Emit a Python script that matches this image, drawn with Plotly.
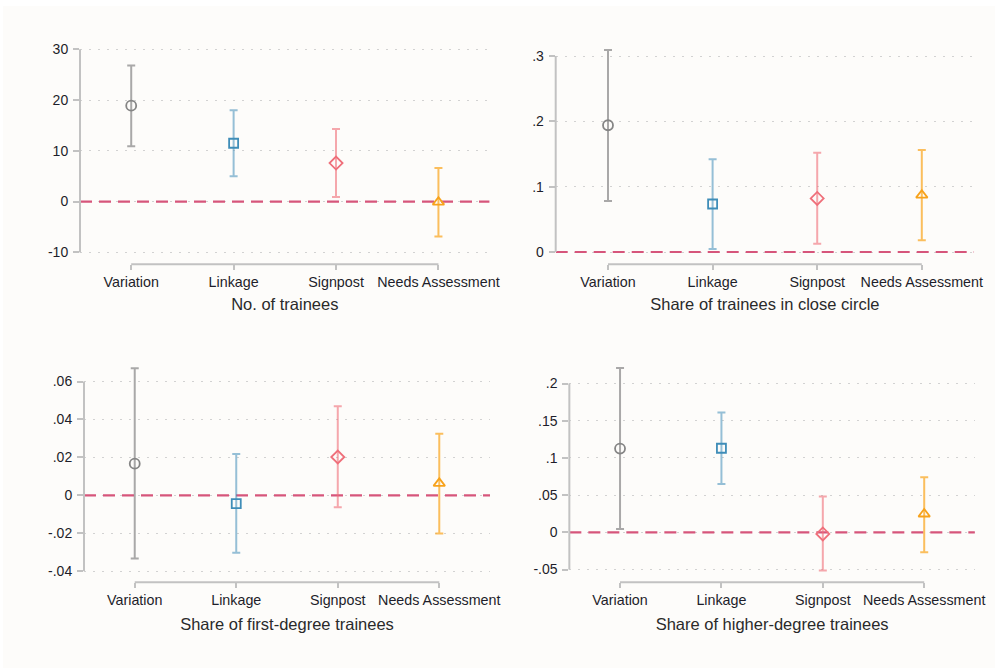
import plotly.graph_objects as go

categories = ["Variation", "Linkage", "Signpost", "Needs Assessment"]
panel_titles = [
    "No. of trainees",
    "Share of trainees in close circle",
    "Share of first-degree trainees",
    "Share of higher-degree trainees",
]

# point estimates and 95% CI bounds per panel (order: Variation, Linkage, Signpost, Needs Assessment)
est_trainees = [18.9, 11.5, 7.6, -0.1]
lo_trainees = [10.9, 5.0, 0.9, -6.9]
hi_trainees = [26.8, 18.0, 14.3, 6.6]

est_close = [0.194, 0.0735, 0.082, 0.087]
lo_close = [0.078, 0.0046, 0.0128, 0.0179]
hi_close = [0.309, 0.142, 0.152, 0.156]

est_first = [0.0167, -0.0044, 0.0202, 0.0063]
lo_first = [-0.0334, -0.0303, -0.0063, -0.0202]
hi_first = [0.067, 0.0218, 0.047, 0.0325]

est_higher = [0.1125, 0.113, -0.0022, 0.0246]
lo_higher = [0.0045, 0.065, -0.0515, -0.0269]
hi_higher = [0.221, 0.161, 0.048, 0.074]

tickvals_trainees = [-10, 0, 10, 20, 30]
ticktext_trainees = ["-10", "0", "10", "20", "30"]
tickvals_close = [0, 0.1, 0.2, 0.3]
ticktext_close = ["0", ".1", ".2", ".3"]
tickvals_first = [-0.04, -0.02, 0, 0.02, 0.04, 0.06]
ticktext_first = ["-.04", "-.02", "0", ".02", ".04", ".06"]
tickvals_higher = [-0.05, 0, 0.05, 0.1, 0.15, 0.2]
ticktext_higher = ["-.05", "0", ".05", ".1", ".15", ".2"]

reference_value = 0

panels = [
    (est_trainees, lo_trainees, hi_trainees, tickvals_trainees, ticktext_trainees),
    (est_close, lo_close, hi_close, tickvals_close, ticktext_close),
    (est_first, lo_first, hi_first, tickvals_first, ticktext_first),
    (est_higher, lo_higher, hi_higher, tickvals_higher, ticktext_higher),
]

# layout geometry (paper fractions) and y ranges
x_domains = [[0.0804, 0.4921], [0.5585, 0.9790], [0.0844, 0.4925], [0.5722, 0.9798]]
y_domains = [[0.6043, 0.9326], [0.6043, 0.9326], [0.1283, 0.4566], [0.1283, 0.4566]]
y_ranges = [[-12.36, 30.85], [-0.01883, 0.3168], [-0.04591, 0.0698], [-0.0672, 0.2276]]
x_range = [0.5, 4.5]

marker_symbols = ["circle-open", "square-open", "diamond-open", "triangle-up-open"]
marker_colors = ["#858585", "#3f8db8", "#ef6f7a", "#f7a21b"]
bar_colors = ["rgba(140,140,140,0.75)", "rgba(80,150,190,0.6)", "rgba(240,110,120,0.6)", "rgba(250,170,40,0.75)"]

FONT = "Liberation Sans, Arial, sans-serif"
AXIS_GRAY = "#c2c2c2"
TEXT = "#1e1e2a"


def to_paper(v, rng, dom):
    return dom[0] + (v - rng[0]) / (rng[1] - rng[0]) * (dom[1] - dom[0])


fig = go.Figure()
shapes = [
    dict(type="rect", xref="paper", yref="paper", x0=3 / 995, x1=1, y0=0, y1=1 - 6 / 668,
         fillcolor="#fdfcfa", line=dict(width=0), layer="below"),
]

layout_axes = {}
for p, (est, lo, hi, tv, tt) in enumerate(panels):
    n = p + 1
    xa = "x" if n == 1 else f"x{n}"
    ya = "y" if n == 1 else f"y{n}"
    # dashed reference line at zero (drawn first so markers sit on top)
    fig.add_trace(go.Scatter(
        x=x_range, y=[reference_value, reference_value], xaxis=xa, yaxis=ya,
        mode="lines", line=dict(color="#d6557b", width=2.2, dash="12px,7px"),
        hoverinfo="skip", showlegend=False,
    ))
    for i, cat in enumerate(categories):
        fig.add_trace(go.Scatter(
            x=[i + 1], y=[est[i]],
            xaxis=xa, yaxis=ya,
            mode="markers",
            marker=dict(symbol=marker_symbols[i], size=10 if i != 1 else 9, color=marker_colors[i],
                        line=dict(width=1.8, color=marker_colors[i])),
            error_y=dict(type="data", symmetric=False,
                         array=[hi[i] - est[i]], arrayminus=[est[i] - lo[i]],
                         color=bar_colors[i], thickness=2, width=4),
            cliponaxis=False,
            showlegend=False,
            name=cat,
        ))
    xkey = "xaxis" if n == 1 else f"xaxis{n}"
    ykey = "yaxis" if n == 1 else f"yaxis{n}"
    layout_axes[xkey] = dict(
        domain=x_domains[p], anchor=ya, range=x_range, automargin=False,
        tickvals=[1, 2, 3, 4], ticktext=categories,
        ticks="outside", ticklen=5, tickwidth=1.5, tickcolor=AXIS_GRAY,
        showline=False, showgrid=False, zeroline=False,
        tickfont=dict(family=FONT, size=14.3, color=TEXT),
        title=dict(text=panel_titles[p], font=dict(family=FONT, size=16.5, color="#2a2a2a"),
                   standoff=8 if p < 2 else 10),
        fixedrange=True,
    )
    layout_axes[ykey] = dict(
        domain=y_domains[p], anchor=xa, range=y_ranges[p], automargin=False,
        tickvals=tv, ticktext=tt,
        ticks="outside", ticklen=6, tickwidth=1.5, tickcolor=AXIS_GRAY,
        showline=False, zeroline=False,
        showgrid=True, gridcolor="#d2d2d2", gridwidth=1, griddash="2px,7px",
        tickfont=dict(family=FONT, size=14, color=TEXT),
        ticklabelstandoff=2,
        fixedrange=True,
    )
    xd, yd, yr = x_domains[p], y_domains[p], y_ranges[p]
    # y axis line spanning the tick range
    shapes.append(dict(type="line", xref="paper", yref="paper", x0=xd[0], x1=xd[0],
                       y0=to_paper(min(tv), yr, yd), y1=to_paper(max(tv), yr, yd),
                       line=dict(color=AXIS_GRAY, width=2)))
    # x axis line spanning first to last category
    shapes.append(dict(type="line", xref="paper", yref="paper",
                       x0=to_paper(1, x_range, xd), x1=to_paper(4, x_range, xd),
                       y0=yd[0], y1=yd[0], line=dict(color=AXIS_GRAY, width=2)))

fig.update_layout(
    width=995, height=668, autosize=False,
    margin=dict(l=0, r=0, t=0, b=0, pad=0),
    paper_bgcolor="white", plot_bgcolor="rgba(0,0,0,0)",
    shapes=shapes,
    font=dict(family=FONT, color=TEXT),
    **layout_axes,
)

fig.write_html("out.html", post_script="document.body.style.margin='0';",
               config={"displayModeBar": False})
